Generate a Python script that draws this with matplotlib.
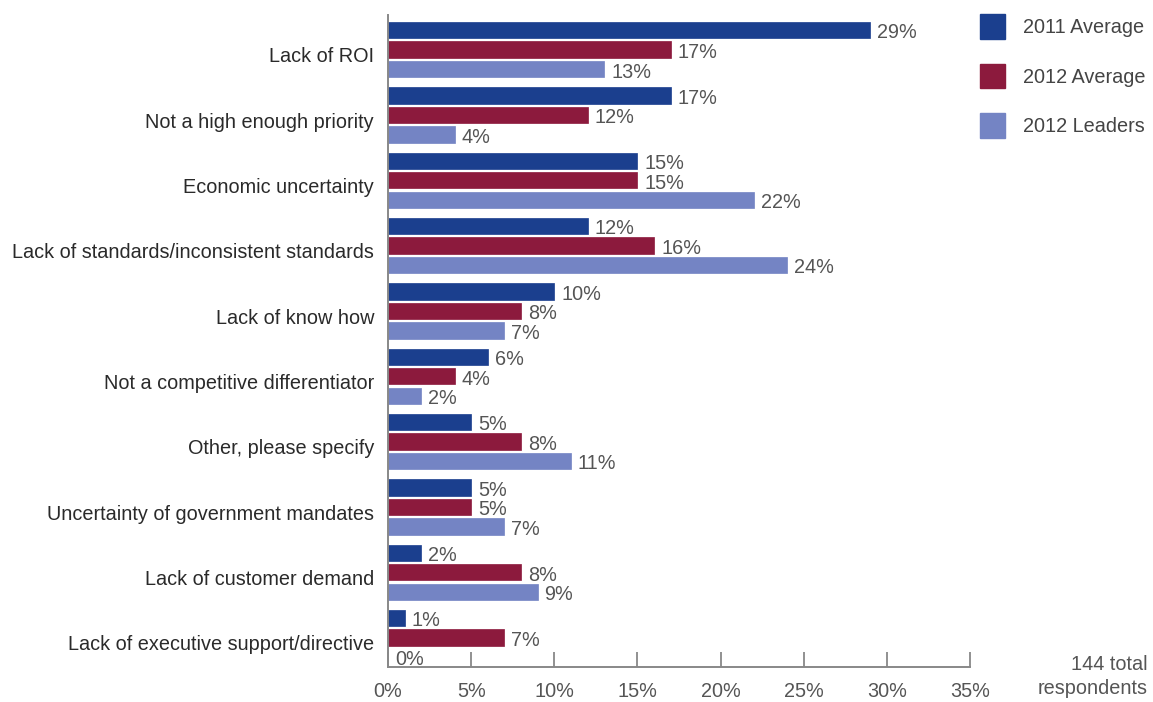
import matplotlib
matplotlib.use("Agg")
import matplotlib.pyplot as plt
import numpy as np
from matplotlib.patches import Patch

categories = [
    "Lack of ROI",
    "Not a high enough priority",
    "Economic uncertainty",
    "Lack of standards/inconsistent standards",
    "Lack of know how",
    "Not a competitive differentiator",
    "Other, please specify",
    "Uncertainty of government mandates",
    "Lack of customer demand",
    "Lack of executive support/directive",
]
avg_2011 = [29, 17, 15, 12, 10, 6, 5, 5, 2, 1]
avg_2012 = [17, 12, 15, 16, 8, 4, 8, 5, 8, 7]
leaders_2012 = [13, 4, 22, 24, 7, 2, 11, 7, 9, 0]
series_names = ["2011 Average", "2012 Average", "2012 Leaders"]
colors = ["#1b3f8e", "#8c1a3d", "#7484c4"]
xticks = [0, 5, 10, 15, 20, 25, 30, 35]

plt.rcParams['font.family'] = ['Liberation Sans', 'DejaVu Sans']
FS = 14.3

fig = plt.figure(figsize=(11.53, 7.02), dpi=100)
ax = fig.add_axes([388/1153, 1-667/702, (970-388)/1153, (667-15)/702])

y = np.arange(len(categories))
offsets = [-0.3, 0.0, 0.3]
h = 0.25
for vals, off, c in zip([avg_2011, avg_2012, leaders_2012], offsets, colors):
    ax.barh(y + off, vals, height=h, color=c, edgecolor=c, linewidth=0.5)
    for yy, v in zip(y + off, vals):
        ax.annotate(f"{v}%", xy=(v, yy), xytext=(5, -2), textcoords="offset points",
                    va="center", ha="left", fontsize=FS, color="#555555")

ax.set_xlim(0, 35)
ax.set_ylim(9.45, -0.53)
ax.set_yticks(y + 0.08)
ax.set_yticklabels(categories, fontsize=FS, color="#2a2a2a")
ax.tick_params(axis='y', length=0, pad=10)
ax.set_xticks(xticks)
ax.set_xticklabels([f"{t}%" for t in xticks], fontsize=FS, color="#555555")
ax.tick_params(axis='x', direction='in', length=11, width=1.3, color="#888888", pad=11)
for s in ["top", "right"]:
    ax.spines[s].set_visible(False)
for s in ["left", "bottom"]:
    ax.spines[s].set_color("#888888")
    ax.spines[s].set_linewidth(1.4)

handles = [Patch(facecolor=c, edgecolor=c, label=n) for c, n in zip(colors, series_names)]
fig.legend(handles=handles, loc="upper left", bbox_to_anchor=(962/1153, 1+4/702),
           frameon=False, fontsize=FS, handlelength=1.25, handleheight=1.55,
           labelspacing=1.25, handletextpad=0.9, borderpad=0.4, labelcolor="#444444")

fig.text(1148/1153, 1-664/702, "144 total", ha="right", va="center", fontsize=FS, color="#555555")
fig.text(1148/1153, 1-689/702, "respondents", ha="right", va="center", fontsize=FS, color="#555555")

fig.savefig("out.png", dpi=100)
